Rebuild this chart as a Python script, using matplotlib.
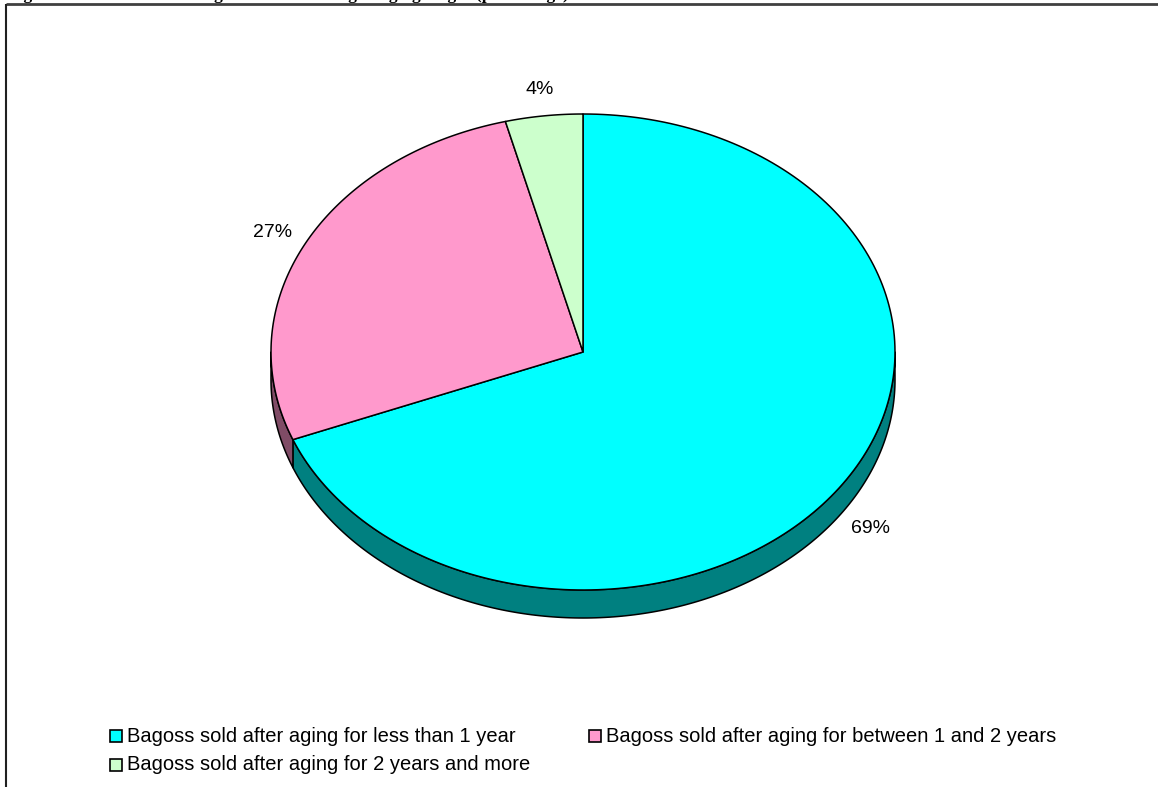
import numpy as np
import matplotlib
matplotlib.use("Agg")
import matplotlib.pyplot as plt
from matplotlib.patches import Polygon, Rectangle

# Share of Bagoss sold by aging length
categories = [
    "Bagoss sold after aging for less than 1 year",
    "Bagoss sold after aging for between 1 and 2 years",
    "Bagoss sold after aging for 2 years and more",
]
shares = [69, 27, 4]
value_labels = ["69%", "27%", "4%"]
title = "Figure 3: Distribution of Bagoss sold according to aging length (percentage)"

top_colors = ["#00FFFF", "#FF99CC", "#CCFFCC"]
side_colors = ["#008080", "#804C66", "#668066"]

W, H = 1158, 787
fig = plt.figure(figsize=(W / 100, H / 100), dpi=100)
ax = fig.add_axes([0, 0, 1, 1])
ax.set_xlim(0, W)
ax.set_ylim(H, 0)
ax.axis("off")

# tilted pie geometry (pixels)
cx, cy, rx, ry, depth = 583, 352, 312, 238, 28


def arc(a, b, n=200):
    """Points on the top ellipse, angles in degrees clockwise from 12 o'clock."""
    t = np.radians(np.linspace(a, b, n))
    return np.column_stack([cx + rx * np.sin(t), cy - ry * np.cos(t)])


total = float(sum(shares))
bounds = np.concatenate([[0], np.cumsum(shares)]) / total * 360.0

# side walls (only the front half of the rim is visible)
for i in range(len(shares)):
    a, b = max(bounds[i], 90.0), min(bounds[i + 1], 270.0)
    if b <= a:
        continue
    top = arc(a, b)
    bottom = top[::-1] + np.array([0, depth])
    ax.add_patch(Polygon(np.vstack([top, bottom]), closed=True,
                         facecolor=side_colors[i], edgecolor="black",
                         linewidth=1.1, joinstyle="round", zorder=2))

# top faces
for i in range(len(shares)):
    pts = np.vstack([[cx, cy], arc(bounds[i], bounds[i + 1])])
    ax.add_patch(Polygon(pts, closed=True, facecolor=top_colors[i],
                         edgecolor="black", linewidth=1.1,
                         joinstyle="round", zorder=3))

# percentage labels just outside the rim
for i, lab in enumerate(value_labels):
    mid = np.radians((bounds[i] + bounds[i + 1]) / 2)
    s, c = np.sin(mid), np.cos(mid)
    x = cx + 1.115 * rx * s
    y = cy - 1.11 * ry * c
    if c < 0:
        y += depth
    ax.text(x, y, lab, ha="center", va="center", fontsize=14,
            family="Liberation Sans", color="black", zorder=4)

# legend
legend_slots = [(110, 736), (589, 736), (110, 765)]
for (lx, ly), name, col in zip(legend_slots, categories, top_colors):
    ax.add_patch(Rectangle((lx, ly - 6), 12, 12, facecolor=col,
                           edgecolor="black", linewidth=1.2, zorder=4))
    ax.text(lx + 17, ly, name, ha="left", va="center", fontsize=14.5,
            family="Liberation Sans", color="black", zorder=4)

# chart frame and heading
ax.plot([6, W], [4, 4], color="#404040", linewidth=2, solid_capstyle="butt")
ax.plot([6, 6], [4, H], color="#202020", linewidth=1.5, solid_capstyle="butt")
ax.text(8, -1, title, ha="left", va="baseline", fontsize=12.5,
        fontweight="bold", family="Liberation Serif", color="black")

fig.savefig("out.png", dpi=100)
